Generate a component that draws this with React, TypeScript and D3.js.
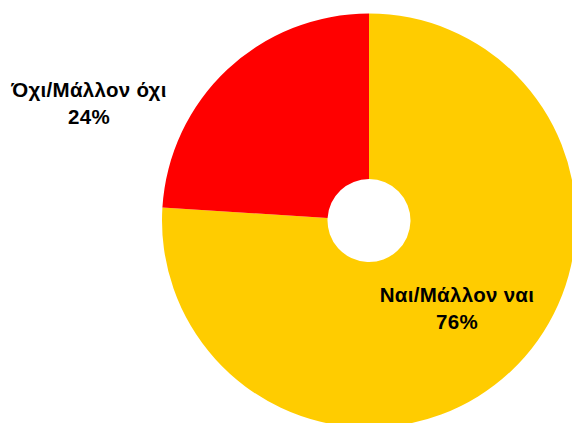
import React from "react";
import * as d3 from "d3";

const categories = ["Ναι/Μάλλον ναι", "Όχι/Μάλλον όχι"];
const values = [76, 24];
const colors = ["#FFCC00", "#FF0000"];

const W = 572;
const H = 423;
const cx = 369;
const cy = 220.5;
const outerR = 207;
const innerR = 41.5;

const labelPos: [number, number][] = [
  [457, 302],
  [89, 97],
];

export default function App() {
  const pie = d3.pie<number>().sort(null).value((d) => d);
  const arcs = pie(values);
  const arc = d3.arc<d3.PieArcDatum<number>>().innerRadius(innerR).outerRadius(outerR);
  return (
    <svg
      width={W}
      height={H}
      style={{ position: "absolute", left: 0, top: 0, display: "block", background: "#fff" }}
    >
      <g transform={`translate(${cx},${cy})`}>
        {arcs.map((a, i) => (
          <path key={i} d={arc(a) || ""} fill={colors[i]} />
        ))}
      </g>
      {categories.map((c, i) => (
        <text
          key={c}
          x={labelPos[i][0]}
          y={labelPos[i][1]}
          textAnchor="middle"
          fontFamily="'Liberation Sans', Arial, sans-serif"
          fontWeight="bold"
          fontSize={20.5}
          letterSpacing={0.3}
          fill="#000"
        >
          <tspan x={labelPos[i][0]}>{c}</tspan>
          <tspan x={labelPos[i][0]} dy={26.5}>{values[i]}%</tspan>
        </text>
      ))}
    </svg>
  );
}
